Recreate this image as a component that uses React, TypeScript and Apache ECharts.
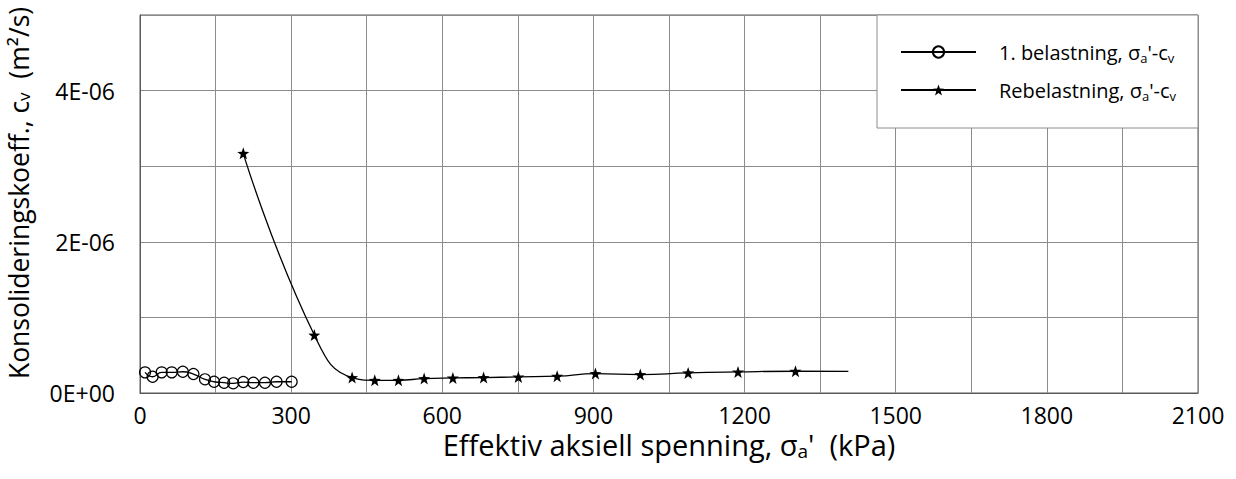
import React, { useEffect, useRef } from "react";
import * as echarts from "echarts";

// 1. belastning (first loading)
const loadStress = [10, 25, 43, 63, 85, 106, 129, 147, 167, 185, 205, 225, 248, 271, 301];
const loadCv = [2.73e-7, 2.15e-7, 2.73e-7, 2.73e-7, 2.81e-7, 2.51e-7, 1.81e-7, 1.49e-7, 1.36e-7, 1.28e-7, 1.45e-7, 1.36e-7, 1.36e-7, 1.49e-7, 1.49e-7];

// Rebelastning (reloading)
const reloadStress = [205, 346, 421, 466, 513, 564, 621, 682, 751, 828, 904, 993, 1088, 1187, 1301, 1406];
const reloadCv = [3.17e-6, 7.66e-7, 2.04e-7, 1.68e-7, 1.68e-7, 1.91e-7, 1.99e-7, 2.04e-7, 2.13e-7, 2.22e-7, 2.57e-7, 2.44e-7, 2.66e-7, 2.79e-7, 2.88e-7, 2.85e-7];
const reloadMarked = [true, true, true, true, true, true, true, true, true, true, true, true, true, true, true, false];

const seriesNames = ["1. belastning", "Rebelastning"];
const xTickLabels = ["0", "300", "600", "900", "1200", "1500", "1800", "2100"];
const yTickLabels = ["0E+00", "", "2E-06", "", "4E-06", ""];

const FONT = "Open Sans";
const STAR = "path://M0,-10L2.35,-3.24L9.51,-3.09L3.8,1.24L5.88,8.09L0,4L-5.88,8.09L-3.8,1.24L-9.51,-3.09L-2.35,-3.24Z";

export default function App() {
  const ref = useRef<HTMLDivElement>(null);
  useEffect(() => {
    if (!ref.current) return;
    const chart = echarts.init(ref.current, undefined, { renderer: "svg" });
    const subRich = (size: number) => ({
      sub: { fontSize: size, lineHeight: size, verticalAlign: "bottom", fontFamily: FONT, color: "#000" },
    });
    chart.setOption({
      animation: false,
      backgroundColor: "#fff",
      grid: {
        left: 140,
        right: 38,
        top: 15,
        bottom: 86,
        outerBoundsMode: "none",
        containLabel: false,
        show: true,
        borderColor: "#595959",
        borderWidth: 1,
        backgroundColor: "transparent",
      },
      xAxis: {
        type: "value",
        min: 0,
        max: 2100,
        interval: 150,
        axisLine: { show: true, lineStyle: { color: "#595959", width: 1 } },
        axisTick: { show: false },
        splitLine: { show: true, lineStyle: { color: "#8c8c8c", width: 1 } },
        axisLabel: {
          margin: 10,
          fontFamily: FONT,
          fontSize: 23,
          lineHeight: 23,
          color: "#000",
          formatter: (v: number) => (v % 300 === 0 ? xTickLabels[v / 300] : ""),
        },
        name: "Effektiv aksiell spenning, σ{sub|a}'  (kPa)",
        nameLocation: "middle",
        nameGap: 35,
        nameMoveOverlap: false,
        nameTextStyle: {
          fontFamily: FONT,
          fontSize: 29,
          lineHeight: 32,
          color: "#000",
          rich: subRich(19),
        },
      },
      yAxis: {
        type: "value",
        min: 0,
        max: 5e-6,
        interval: 1e-6,
        axisLine: { show: true, lineStyle: { color: "#595959", width: 1 } },
        axisTick: { show: false },
        splitLine: { show: true, lineStyle: { color: "#8c8c8c", width: 1 } },
        axisLabel: {
          margin: 25,
          fontFamily: FONT,
          fontSize: 23,
          color: "#000",
          formatter: (v: number) => yTickLabels[Math.round(v / 1e-6)] ?? "",
        },
        name: "Konsolideringskoeff., c{sub|v}  (m²/s)",
        nameLocation: "middle",
        nameRotate: 90,
        nameGap: 108,
        nameMoveOverlap: false,
        nameTextStyle: {
          fontFamily: FONT,
          fontSize: 26.5,
          lineHeight: 26,
          color: "#000",
          padding: [0, 0, 0, 22],
          rich: subRich(17),
        },
      },
      graphic: [
        {
          type: "rect",
          z: 3,
          shape: { x: 877, y: 15, width: 321, height: 113 },
          style: { fill: "#fff", stroke: "#8c8c8c", lineWidth: 1 },
        },
      ],
      legend: {
        orient: "vertical",
        left: 900,
        top: 40,
        padding: 0,
        itemWidth: 75,
        itemHeight: 14,
        itemGap: 14,
        z: 5,
        data: seriesNames,
        formatter: (name: string) => `${name}, σ{sub|a}'-c{sub|v}`,
        textStyle: {
          fontFamily: FONT,
          fontSize: 20,
          lineHeight: 24,
          color: "#000",
          padding: [0, 0, 0, 18],
          rich: subRich(13),
        },
      },
      series: [
        {
          name: seriesNames[0],
          type: "line",
          smooth: 0.5,
          symbol: "circle",
          symbolSize: 11,
          itemStyle: { color: "rgba(255,255,255,0)", borderColor: "#000", borderWidth: 1.2 },
          lineStyle: { color: "#000", width: 1.3 },
          data: loadStress.map((x, i) => [x, loadCv[i]]),
          z: 3,
        },
        {
          name: seriesNames[1],
          type: "line",
          smooth: 0.5,
          symbol: STAR,
          symbolSize: 12,
          itemStyle: { color: "#000" },
          lineStyle: { color: "#000", width: 1.3 },
          data: reloadStress.map((x, i) =>
            reloadMarked[i] ? { value: [x, reloadCv[i]] } : { value: [x, reloadCv[i]], symbol: "none" }
          ),
          z: 3,
        },
      ],
    });
    return () => chart.dispose();
  }, []);
  return (
    <div
      ref={ref}
      style={{ position: "fixed", left: 0, top: 0, width: 1236, height: 479, background: "#fff" }}
    />
  );
}
